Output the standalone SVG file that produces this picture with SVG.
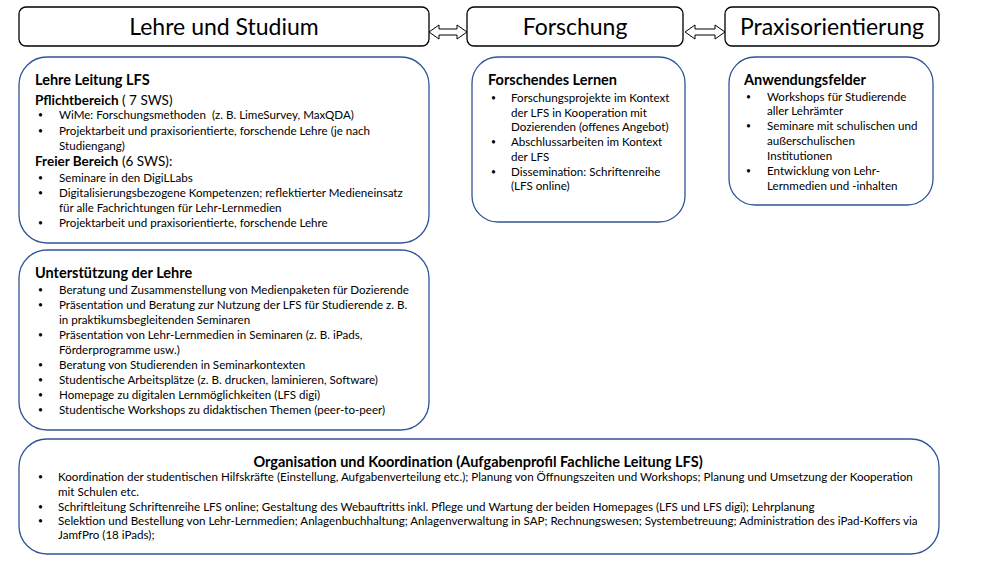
<svg xmlns="http://www.w3.org/2000/svg" width="1000" height="562" viewBox="0 0 1000 562">
<style>
.hdr{fill:#fff;stroke:#000;stroke-width:1.3}
.box{fill:#fff;stroke:#2F5597;stroke-width:1.3}
.ht{font-family:Lato,"Liberation Sans",sans-serif;font-size:23px;fill:#000;text-anchor:middle}
.t{font-family:Lato,"Liberation Sans",sans-serif;font-size:11.6px;fill:#000}
.d{font-size:8.5px}
.b{font-family:Lato,"Liberation Sans",sans-serif;font-size:14.5px;font-weight:bold;fill:#000}
.s{font-family:Lato,"Liberation Sans",sans-serif;font-size:13.5px;fill:#000}
.sb{font-weight:bold}
.arr{fill:#fff;stroke:#000;stroke-width:1}
</style>
<rect width="1000" height="562" fill="#fff"/>
<g id="connectors">
<polygon class="arr" points="429,32 439,25 439,29 457,29 457,25 467,32 457,39 457,35 439,35 439,39"/>
<polygon class="arr" points="685,32 695,25 695,29 715,29 715,25 725,32 715,39 715,35 695,35 695,39"/>
</g>
<g id="lehre-studium">
<rect class="hdr" x="19" y="7" width="410" height="39" rx="7"/>
<text class="ht" x="224" y="35">Lehre und Studium</text>
</g>
<g id="forschung">
<rect class="hdr" x="467" y="7" width="216" height="39" rx="7"/>
<text class="ht" x="575" y="35">Forschung</text>
</g>
<g id="praxis">
<rect class="hdr" x="725" y="7" width="214" height="39" rx="7"/>
<text class="ht" x="832" y="35">Praxisorientierung</text>
</g>
<g id="lehre-leitung">
<rect class="box" x="19" y="57" width="410" height="186" rx="28"/>
<text class="b" x="35" y="85">Lehre Leitung LFS</text>
<text class="s" x="35" y="105"><tspan class="sb">Pflichtbereich</tspan> ( 7 SWS)</text>
<g class="t">
<text class="d" x="38" y="118">•</text><text x="59" y="119">WiMe: Forschungsmethoden&#160; (z. B. LimeSurvey, MaxQDA)</text>
<text class="d" x="38" y="134">•</text><text x="59" y="135">Projektarbeit und praxisorientierte, forschende Lehre (je nach</text>
<text x="59" y="150">Studiengang)</text>
</g>
<text class="s" x="35" y="166"><tspan class="sb">Freier Bereich</tspan> (6 SWS):</text>
<g class="t">
<text class="d" x="38" y="181">•</text><text x="59" y="182">Seminare in den DigiLLabs</text>
<text class="d" x="38" y="196">•</text><text x="59" y="197">Digitalisierungsbezogene Kompetenzen; reflektierter Medieneinsatz</text>
<text x="59" y="212">für alle Fachrichtungen für Lehr-Lernmedien</text>
<text class="d" x="38" y="226">•</text><text x="59" y="227">Projektarbeit und praxisorientierte, forschende Lehre</text>
</g>
</g>
<g id="unterstuetzung">
<rect class="box" x="19" y="250" width="410" height="180" rx="28"/>
<text class="b" x="35" y="278">Unterstützung der Lehre</text>
<g class="t">
<text class="d" x="38" y="293">•</text><text x="59" y="294">Beratung und Zusammenstellung von Medienpaketen für Dozierende</text>
<text class="d" x="38" y="308">•</text><text x="59" y="309">Präsentation und Beratung zur Nutzung der LFS für Studierende z. B.</text>
<text x="59" y="324">in praktikumsbegleitenden Seminaren</text>
<text class="d" x="38" y="338">•</text><text x="59" y="339">Präsentation von Lehr-Lernmedien in Seminaren (z. B. iPads,</text>
<text x="59" y="354">Förderprogramme usw.)</text>
<text class="d" x="38" y="368">•</text><text x="59" y="369">Beratung von Studierenden in Seminarkontexten</text>
<text class="d" x="38" y="383">•</text><text x="59" y="384">Studentische Arbeitsplätze (z. B. drucken, laminieren, Software)</text>
<text class="d" x="38" y="398">•</text><text x="59" y="399">Homepage zu digitalen Lernmöglichkeiten (LFS digi)</text>
<text class="d" x="38" y="413">•</text><text x="59" y="414">Studentische Workshops zu didaktischen Themen (peer-to-peer)</text>
</g>
</g>
<g id="forschendes-lernen">
<rect class="box" x="472" y="57" width="213" height="165" rx="26"/>
<text class="b" x="488" y="85">Forschendes Lernen</text>
<g class="t">
<text class="d" x="491" y="101">•</text><text x="511" y="102">Forschungsprojekte im Kontext</text>
<text x="511" y="117">der LFS in Kooperation mit</text>
<text x="511" y="131">Dozierenden (offenes Angebot)</text>
<text class="d" x="491" y="145">•</text><text x="511" y="146">Abschlussarbeiten im Kontext</text>
<text x="511" y="161">der LFS</text>
<text class="d" x="491" y="175">•</text><text x="511" y="176">Dissemination: Schriftenreihe</text>
<text x="511" y="190">(LFS online)</text>
</g>
</g>
<g id="anwendungsfelder">
<rect class="box" x="729" y="57" width="204" height="148" rx="26"/>
<text class="b" x="744" y="85">Anwendungsfelder</text>
<g class="t">
<text class="d" x="746" y="100">•</text><text x="767" y="101">Workshops für Studierende</text>
<text x="767" y="115">aller Lehrämter</text>
<text class="d" x="746" y="129">•</text><text x="767" y="130">Seminare mit schulischen und</text>
<text x="767" y="145">außerschulischen</text>
<text x="767" y="160">Institutionen</text>
<text class="d" x="746" y="174">•</text><text x="767" y="175">Entwicklung von Lehr-</text>
<text x="767" y="190">Lernmedien und -inhalten</text>
</g>
</g>
<g id="organisation">
<rect class="box" x="19" y="439" width="920" height="115" rx="28"/>
<text class="b" x="478" y="467" text-anchor="middle">Organisation und Koordination (Aufgabenprofil Fachliche Leitung LFS)</text>
<g class="t">
<text class="d" x="38" y="480">•</text><text x="58" y="481">Koordination der studentischen Hilfskräfte (Einstellung, Aufgabenverteilung etc.); Planung von Öffnungszeiten und Workshops; Planung und Umsetzung der Kooperation</text>
<text x="58" y="496">mit Schulen etc.</text>
<text class="d" x="38" y="510">•</text><text x="58" y="511">Schriftleitung Schriftenreihe LFS online; Gestaltung des Webauftritts inkl. Pflege und Wartung der beiden Homepages (LFS und LFS digi); Lehrplanung</text>
<text class="d" x="38" y="524">•</text><text x="58" y="525">Selektion und Bestellung von Lehr-Lernmedien; Anlagenbuchhaltung; Anlagenverwaltung in SAP; Rechnungswesen; Systembetreuung; Administration des iPad-Koffers via</text>
<text x="58" y="539">JamfPro (18 iPads);</text>
</g>
</g>
</svg>
